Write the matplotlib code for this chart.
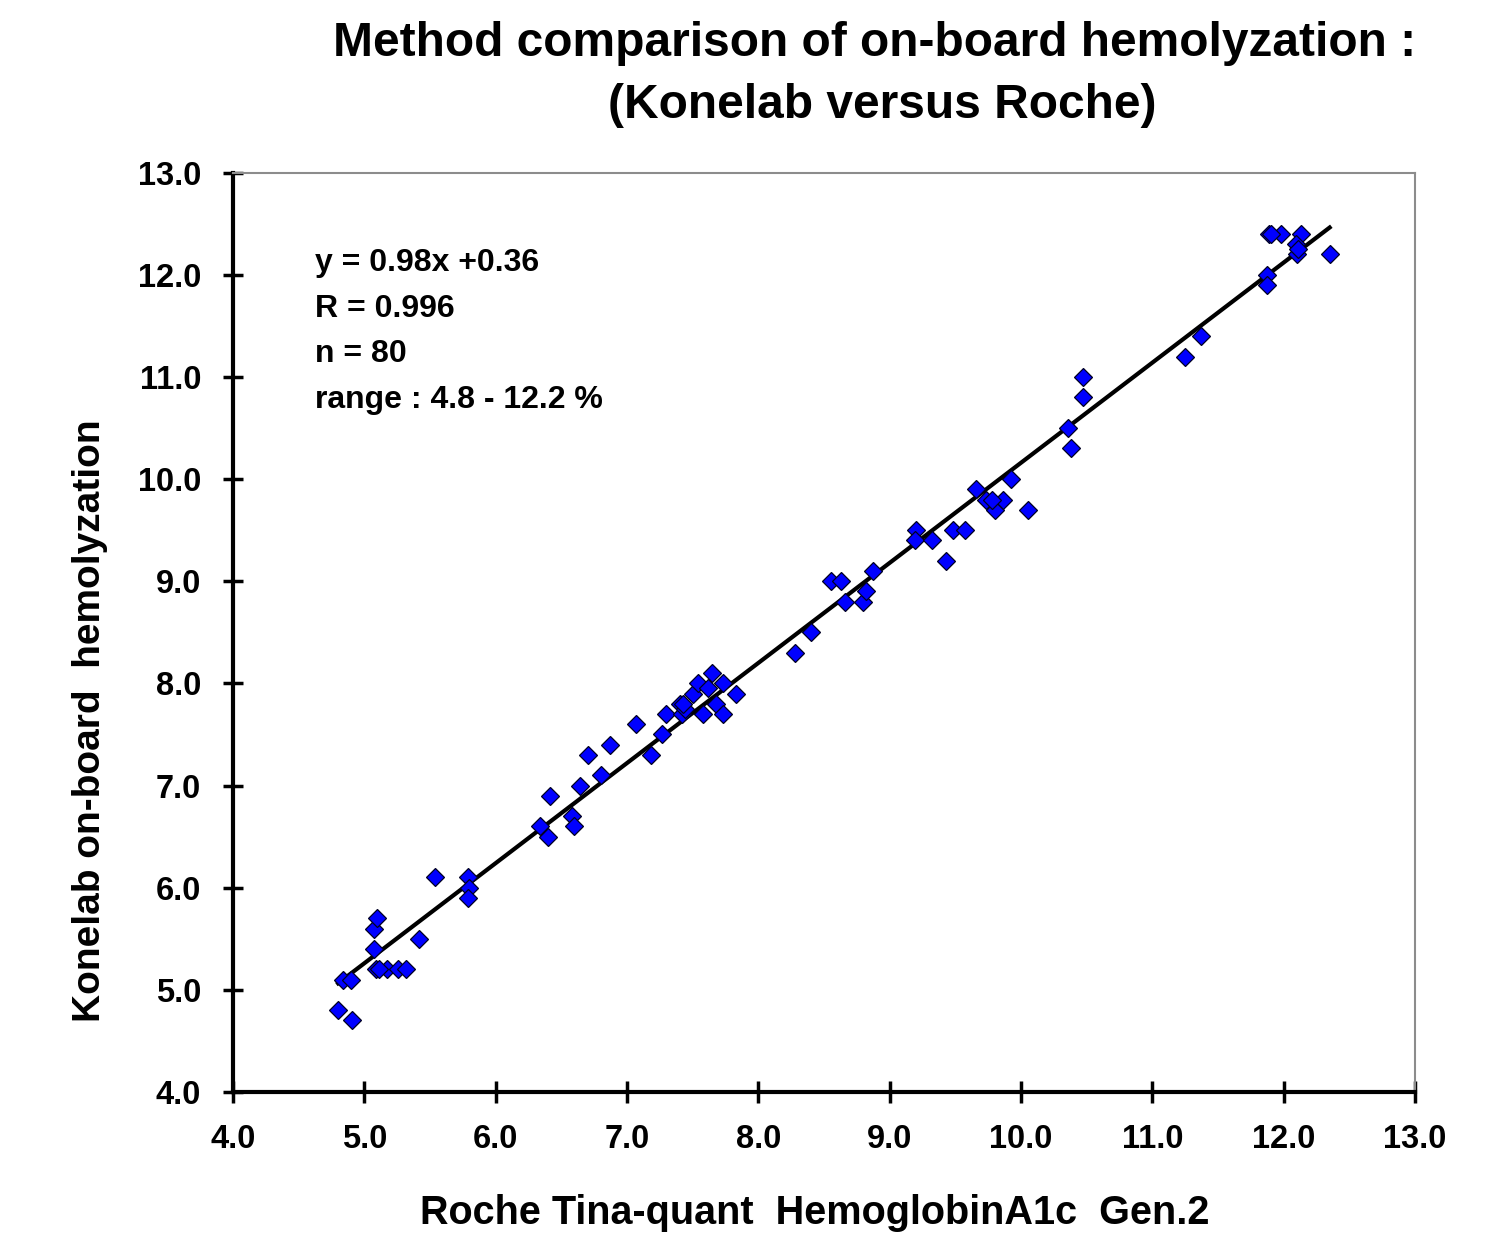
import matplotlib
matplotlib.use("Agg")
import matplotlib.pyplot as plt
import numpy as np

# Roche Tina-quant (x) vs Konelab on-board hemolyzation (y)
roche = [4.80, 4.91, 4.84, 4.90, 5.07, 5.07, 5.10, 5.09, 5.17, 5.26, 5.32, 5.42, 5.54, 5.79, 5.80, 5.79,
         6.41, 6.34, 6.40, 6.58, 6.60, 6.64, 6.70, 6.80, 6.87, 7.07, 7.18, 7.27, 7.30, 7.40, 7.42,
         7.50, 7.54, 7.58, 7.65, 7.73, 7.68, 7.73, 7.83, 7.44, 7.62,
         8.28, 8.40, 8.55, 8.63, 8.66, 8.80, 8.82, 8.87, 9.20, 9.19, 9.32, 9.43, 9.48, 9.57,
         9.66, 9.73, 9.80, 9.86, 9.92, 10.05,
         10.47, 10.47, 10.36, 10.38, 11.25, 11.37, 11.87, 11.87, 11.89, 11.98, 12.13, 12.09, 12.10, 12.35,
         5.11, 7.43, 9.78, 12.11, 11.90]
konelab = [4.8, 4.7, 5.1, 5.1, 5.4, 5.6, 5.7, 5.2, 5.2, 5.2, 5.2, 5.5, 6.1, 6.1, 6.0, 5.9,
           6.9, 6.6, 6.5, 6.7, 6.6, 7.0, 7.3, 7.1, 7.4, 7.6, 7.3, 7.5, 7.7, 7.8, 7.7,
           7.9, 8.0, 7.7, 8.1, 8.0, 7.8, 7.7, 7.9, 7.75, 7.95,
           8.3, 8.5, 9.0, 9.0, 8.8, 8.8, 8.9, 9.1, 9.5, 9.4, 9.4, 9.2, 9.5, 9.5,
           9.9, 9.8, 9.7, 9.8, 10.0, 9.7,
           11.0, 10.8, 10.5, 10.3, 11.2, 11.4, 12.0, 11.9, 12.4, 12.4, 12.4, 12.3, 12.2, 12.2,
           5.2, 7.8, 9.8, 12.25, 12.4]

slope, intercept = 0.98, 0.36
ticks = [4.0, 5.0, 6.0, 7.0, 8.0, 9.0, 10.0, 11.0, 12.0, 13.0]
stats_text = "y = 0.98x +0.36\nR = 0.996\nn = 80\nrange : 4.8 - 12.2 %"

plt.rcParams['font.family'] = ['Liberation Sans', 'DejaVu Sans']

fig = plt.figure(figsize=(15.06, 12.43), dpi=100)
ax = fig.add_axes([0.1547, 0.1215, 0.7849, 0.7396])

ax.plot(roche, konelab, linestyle='none', marker='D', markersize=9.5,
        markerfacecolor='#0000ff', markeredgecolor='#000022', markeredgewidth=0.9, zorder=3)

xs = np.array([min(roche), max(roche)])
ax.plot(xs, slope * xs + intercept, color='black', linewidth=3.0, zorder=2)

ax.set_xlim(4.0, 13.0)
ax.set_ylim(4.0, 13.0)
ax.set_xticks(ticks)
ax.set_yticks(ticks)
ax.set_xticklabels([f"{t:.1f}" for t in ticks])
ax.set_yticklabels([f"{t:.1f}" for t in ticks])

for side in ['left', 'bottom']:
    ax.spines[side].set_linewidth(3.0)
    ax.spines[side].set_color('black')
for side in ['top', 'right']:
    ax.spines[side].set_linewidth(1.5)
    ax.spines[side].set_color('#8c8c8c')

ax.tick_params(axis='x', direction='inout', length=16, width=2.5, pad=15,
               labelsize=23.5, colors='black')
ax.tick_params(axis='y', direction='inout', length=14, width=2.5, pad=16,
               labelsize=23.5, colors='black')
for lab in ax.get_xticklabels() + ax.get_yticklabels():
    lab.set_fontweight('bold')

ax.text(0.069, 0.918, stats_text, transform=ax.transAxes, ha='left', va='top',
        fontsize=23, fontweight='bold', linespacing=1.68)

fig.text(0.581, 0.965, "Method comparison of on-board hemolyzation :",
         ha='center', va='center', fontsize=34.5, fontweight='bold')
fig.text(0.586, 0.9155, "(Konelab versus Roche)",
         ha='center', va='center', fontsize=34.5, fontweight='bold')

fig.text(0.060, 0.42, "Konelab on-board  hemolyzation", rotation=90,
         ha='center', va='center', fontsize=28, fontweight='bold')
fig.text(0.541, 0.024, "Roche Tina-quant  HemoglobinA1c  Gen.2",
         ha='center', va='center', fontsize=28.5, fontweight='bold')

fig.savefig("out.png", dpi=100, facecolor='white')
